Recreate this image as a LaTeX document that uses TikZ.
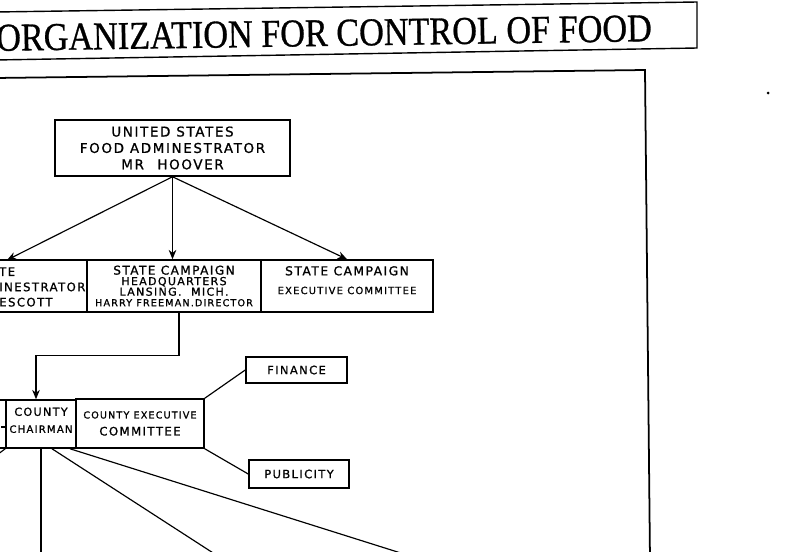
\documentclass[tikz,border=0pt]{standalone}
\usepackage{fontspec}
\setmainfont{Liberation Serif}
\newfontfamily\titlefont[FakeBold=0.8]{Liberation Serif}
\newfontfamily\handfont[LetterSpace=12,FakeBold=1]{DejaVu Sans}
\usetikzlibrary{arrows.meta,calc}
\def\handsz#1#2{\handfont\fontsize{#1}{#2}\selectfont}

\begin{document}
\begin{tikzpicture}[x=0.03cm, y=-0.03cm,
		box/.style={draw, line width=1.3pt, inner sep=0pt, align=center},
		link/.style={line width=1pt},
		arr/.style={link, -{Stealth[length=8pt,width=6.5pt]}}]
		%%%%% START %%%%%
		\useasboundingbox (0,0) rectangle (802,551);
		
		\draw[line width=1.2pt] (-5,12) -- (697,2) -- (697,48) -- (-5,60);
		\node[anchor=west, inner sep=0pt, rotate=0.85, yscale=1.15, font=\titlefont\fontsize{29.2}{30}\selectfont] (title) at (-4,38) {ORGANIZATION FOR CONTROL OF FOOD};
		
		\draw[line width=1.5pt] (-5,78) -- (645,70) -- (650,560);
		\fill (768,93) circle (1.5);
		
		\node[box, minimum width=7.05cm, minimum height=1.68cm, font=\handsz{11.5}{14}] (usfa) at (172.5,148) {UNITED STATES\\FOOD ADMINESTRATOR\\MR\quad HOOVER};
		
		\node[box, minimum width=3.51cm, minimum height=1.56cm] (sfa) at (28.5,286) {};
		\node[anchor=west, align=left, inner sep=0pt, font=\handsz{10}{13}] (sfatext) at (-1,287) {TE\\INESTRATOR\\ESCOTT};
		\node[box, minimum width=5.22cm, minimum height=1.56cm, font=\handsz{9.4}{9}] (hq) at (174,286) {{\handsz{10.3}{9}STATE CAMPAIGN}\\HEADQUARTERS\\LANSING.\ \ MICH.\\{\handsz{8.2}{9}HARRY FREEMAN.DIRECTOR}};
		\node[box, minimum width=5.16cm, minimum height=1.56cm, font=\handsz{10.5}{16}] (exec) at (347,286) {STATE CAMPAIGN\\{\handsz{8.5}{16}EXECUTIVE COMMITTEE}\\[-6pt]\mbox{}};
		
		\node[box, minimum width=1.08cm, minimum height=1.44cm] (cleft) at (-12,424) {};
		\node[box, minimum width=2.1cm, minimum height=1.44cm, font=\handsz{9.5}{14.5}] (chair) at (41,424) {COUNTY\\{\handsz{8.6}{14.5}CHAIRMAN}\\[-8pt]\mbox{}};
		\node[box, minimum width=3.84cm, minimum height=1.47cm, font=\handsz{8.2}{14.5}] (cexec) at (140,423.5) {COUNTY EXECUTIVE\\{\handsz{10}{14.5}COMMITTEE}};
		\node[box, minimum width=3.03cm, minimum height=0.78cm, font=\handsz{9.8}{10}] (fin) at (296.5,370) {FINANCE};
		\node[box, minimum width=3cm, minimum height=0.84cm, font=\handsz{9.8}{10}] (pub) at (299,474) {PUBLICITY};
		
		\coordinate (sfain) at (7,260);
		\draw[arr] (usfa.south) -- (sfain);
		\draw[arr] (usfa.south) -- (usfa.south |- hq.north);
		\draw[arr] (usfa.south) -- (exec.north);
		
		\draw[arr] ($(hq.south)+(5,0)$) -- ++(0,43) -| ($(chair.north)+(-5,0)$);
		
		\draw[link] (cexec.north east) -- (fin.west);
		\draw[link] (cexec.south east) -- (pub.west);
		
		\coordinate (d1) at (41,560);
		\coordinate (d2) at (224,560);
		\coordinate (d3) at (423,560);
		\draw[link] (chair.south) -- (d1);
		\draw[link] ($(chair.south)+(11,0)$) -- (d2);
		\draw[link] ($(chair.south)+(29,0)$) -- (d3);
		\draw[link] (chair.south west) -- ++(-16,12);
		\draw[link] (cleft.east) ++(0,3) -- ++(-6,0);
		
		%%%%% END %%%%%
	\end{tikzpicture}
\end{document}
